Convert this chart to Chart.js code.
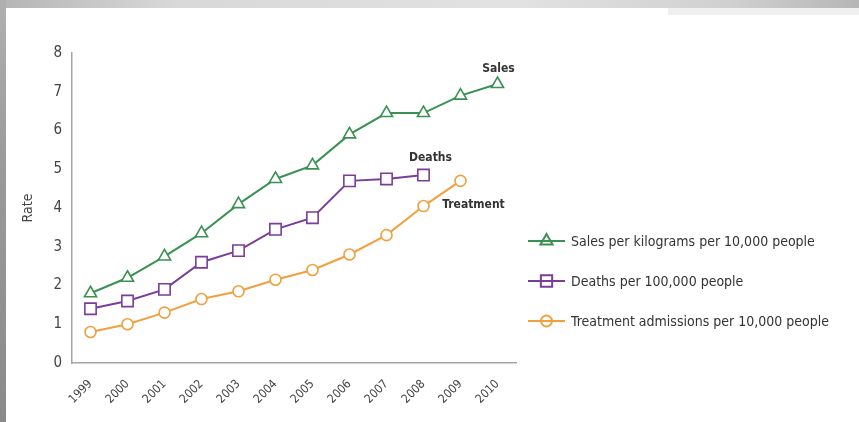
<!DOCTYPE html>
<html>
<head>
<meta charset="utf-8">
<script src="https://cdn.jsdelivr.net/npm/chart.js@4/dist/chart.umd.min.js"></script>
<style>
  html, body { margin: 0; padding: 0; background: #fff; }
  #wrap { position: relative; width: 859px; height: 422px; overflow: hidden; background: #fff; }
  #frameTop { position: absolute; left: 0; top: 0; width: 859px; height: 8px;
    background: linear-gradient(to right, #b4b4b4 0%, #d8d8d8 20%, #e2e2e2 60%, #d0d0d0 85%, #b6b6b6 100%); }
  #frameLeft { position: absolute; left: 0; top: 0; width: 6px; height: 422px;
    background: linear-gradient(to bottom, #b0b0b0 0%, #9a9a9a 40%, #8a8a8a 100%); }
  #frameShade { position: absolute; left: 668px; top: 8px; width: 191px; height: 7px; background: #efefef; }
  canvas { position: absolute; left: 0; top: 0; }
</style>
</head>
<body>
<div id="wrap">
  <div id="frameTop"></div>
  <div id="frameLeft"></div>
  <div id="frameShade"></div>
  <canvas id="chart" width="859" height="422"></canvas>
</div>
<script>
const years = ['1999', '2000', '2001', '2002', '2003', '2004', '2005', '2006', '2007', '2008', '2009', '2010'];
const sales = [1.8, 2.2, 2.75, 3.35, 4.1, 4.75, 5.1, 5.9, 6.45, 6.45, 6.9, 7.2];
const deaths = [1.4, 1.6, 1.9, 2.6, 2.9, 3.45, 3.75, 4.7, 4.75, 4.85];
const treatment = [0.8, 1.0, 1.3, 1.65, 1.85, 2.15, 2.4, 2.8, 3.3, 4.05, 4.7];
const seriesNames = ['Sales per kilograms per 10,000 people', 'Deaths per 100,000 people', 'Treatment admissions per 10,000 people'];
const endLabels = ['Sales', 'Deaths', 'Treatment'];

const GREEN = '#3a9152';
const PURPLE = '#7a3d98';
const ORANGE = '#f0a03e';
const FONT = "'Liberation Sans Narrow', 'DejaVu Sans Condensed', sans-serif";

function lineSet(label, data, color, style, radius) {
  return {
    label,
    data,
    borderColor: color,
    backgroundColor: '#fff',
    borderWidth: 2,
    pointStyle: style,
    pointRadius: radius,
    pointBorderWidth: 1.6,
    pointBackgroundColor: '#fff',
    pointBorderColor: color,
    tension: 0
  };
}

// bold series names next to each line's last point, and the legend on the right
const labelsPlugin = {
  id: 'labelsPlugin',
  afterDatasetsDraw(chart) {
    const ctx = chart.ctx;
    const x = chart.scales.x, y = chart.scales.y;
    const offsets = [[1, -15], [7, -17], [13, 24]];
    ctx.save();
    ctx.font = 'bold 12px ' + FONT;
    ctx.fillStyle = '#333';
    ctx.textAlign = 'center';
    ctx.textBaseline = 'middle';
    chart.data.datasets.forEach((ds, i) => {
      const last = ds.data.length - 1;
      const px = x.getPixelForValue(last) + offsets[i][0];
      const py = y.getPixelForValue(ds.data[last]) + offsets[i][1];
      ctx.fillText(endLabels[i], px, py);
    });

    // legend
    const lx = 528, ly = 241, gap = 40;
    chart.data.datasets.forEach((ds, i) => {
      const cy = ly + i * gap;
      ctx.strokeStyle = ds.borderColor;
      ctx.lineWidth = 2;
      ctx.beginPath();
      ctx.moveTo(lx, cy);
      ctx.lineTo(lx + 37, cy);
      ctx.stroke();
      ctx.fillStyle = 'rgba(0,0,0,0)';
      Chart.helpers.drawPoint(ctx, {
        pointStyle: ds.pointStyle,
        radius: ds.pointRadius,
        borderWidth: 1.6,
        rotation: 0
      }, lx + 18.5, cy);
      ctx.font = '14px ' + FONT;
      ctx.fillStyle = '#333';
      ctx.textAlign = 'left';
      ctx.fillText(seriesNames[i], lx + 43, cy + 1);
    });
    ctx.restore();
  }
};

new Chart(document.getElementById('chart'), {
  type: 'line',
  data: {
    labels: years,
    datasets: [
      lineSet(seriesNames[0], sales, GREEN, 'triangle', 7),
      lineSet(seriesNames[1], deaths, PURPLE, 'rect', 8),
      lineSet(seriesNames[2], treatment, ORANGE, 'circle', 5.5)
    ]
  },
  options: {
    responsive: false,
    animation: false,
    layout: { padding: { left: 0, top: 53, right: 343, bottom: 14 } },
    plugins: {
      legend: { display: false },
      tooltip: { enabled: false }
    },
    scales: {
      x: {
        offset: true,
        grid: { display: false, drawTicks: false },
        border: { display: true, color: '#a5a5a5', width: 1.5 },
        ticks: {
          color: '#444',
          font: { family: FONT, size: 12 },
          minRotation: 45,
          maxRotation: 45,
          padding: 14,
          autoSkip: false
        },
        afterFit(scale) { scale.height = 45; }
      },
      y: {
        min: 0,
        max: 8,
        grid: { display: false, drawTicks: false },
        border: { display: true, color: '#a5a5a5', width: 1.5 },
        ticks: {
          stepSize: 1,
          color: '#444',
          font: { family: FONT, size: 15 },
          padding: 10
        },
        title: {
          display: true,
          text: 'Rate',
          color: '#444',
          font: { family: FONT, size: 14 },
          padding: { top: 20, bottom: 0 }
        },
        afterFit(scale) { scale.width = 72; }
      }
    }
  },
  plugins: [labelsPlugin]
});
</script>
</body>
</html>
